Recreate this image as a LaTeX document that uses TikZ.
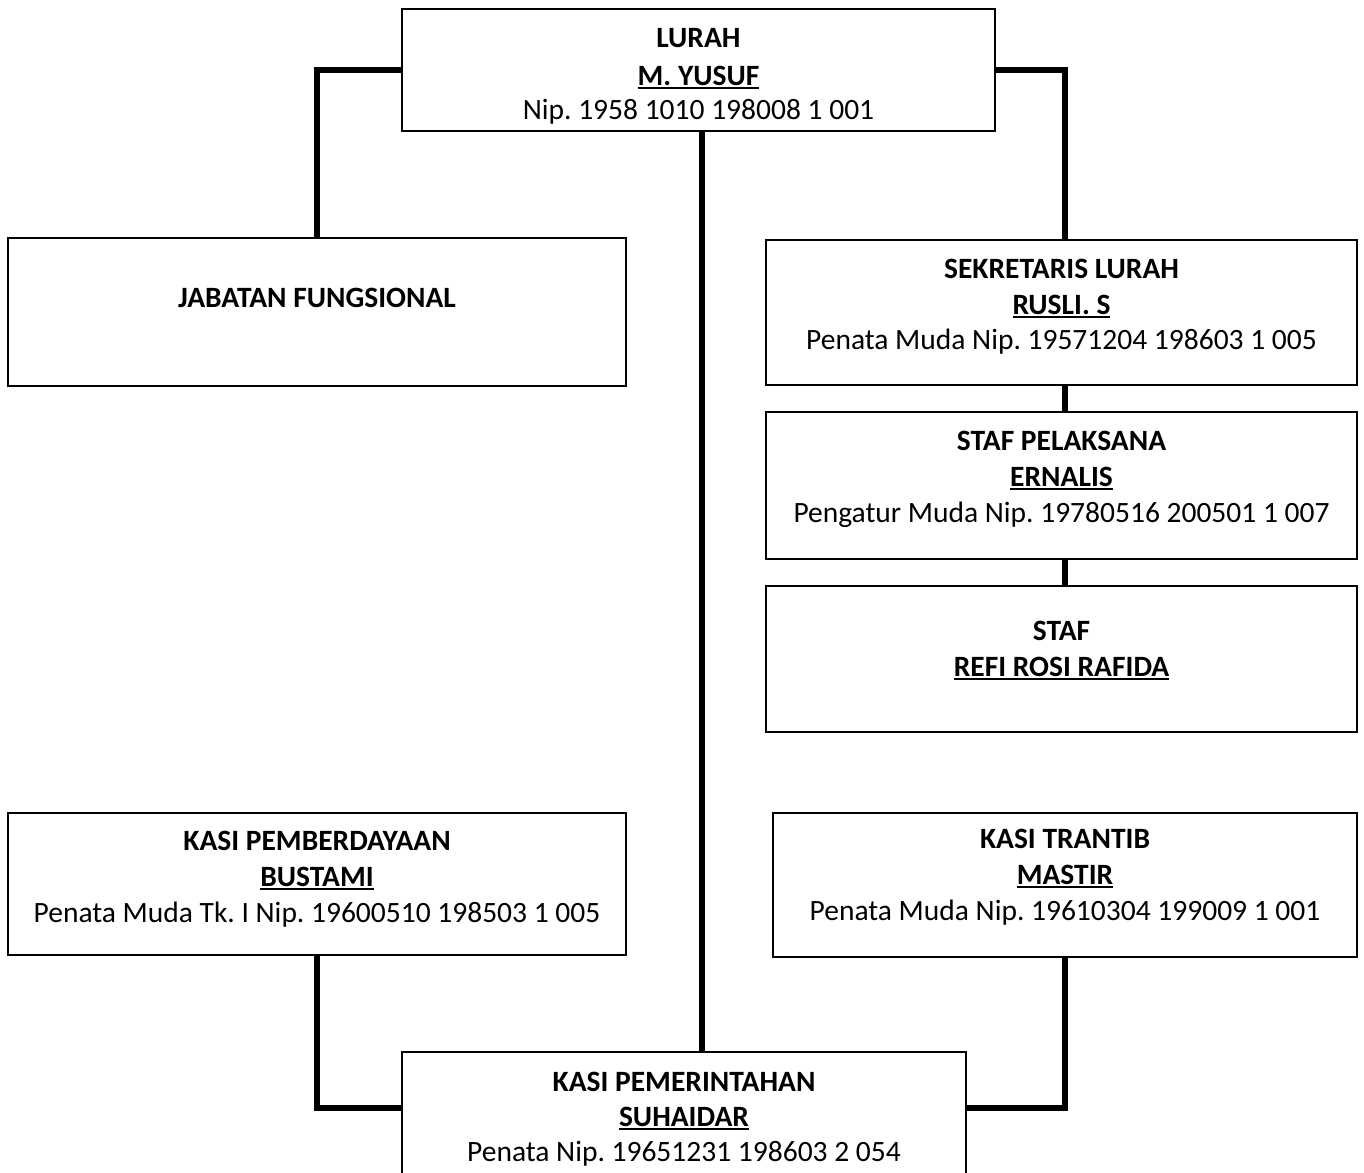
\documentclass[tikz,border=0pt]{standalone}
\usepackage{fontspec}
\setmainfont{Carlito}
\usetikzlibrary{calc}
\frenchspacing
\newcommand\ulx[1]{\setbox0\hbox{#1}\rlap{\rule[-3.8pt]{\wd0}{1.8pt}}\box0}
\tikzset{
 box/.style={draw, line width=1.6pt, anchor=north west, inner sep=0pt, outer sep=0pt},
 conn/.style={line width=5.5pt, line join=miter, line cap=butt},
 txt/.style={anchor=base, inner sep=0pt, font=\fontsize{29.5}{35}\selectfont\frenchspacing},
 ttl/.style={anchor=base, inner sep=0pt, font=\fontsize{29.5}{35}\selectfont\bfseries\frenchspacing},
}
\begin{document}
\begin{tikzpicture}[x=1pt,y=-1pt]
\clip (0,0) rectangle (1364,1172);
\fill[white] (0,0) rectangle (1364,1172);
% boxes
\node[box, minimum width=593pt, minimum height=122pt] (lurah) at (402,9) {};
\node[box, minimum width=618pt, minimum height=148pt] (jab) at (8,238) {};
\node[box, minimum width=591pt, minimum height=145pt] (sek) at (766,240) {};
\node[box, minimum width=591pt, minimum height=147pt] (staf1) at (766,412) {};
\node[box, minimum width=591pt, minimum height=146pt] (staf2) at (766,586) {};
\node[box, minimum width=618pt, minimum height=142pt] (pemb) at (8,813) {};
\node[box, minimum width=584pt, minimum height=144pt] (tran) at (773,813) {};
\node[box, minimum width=564pt, minimum height=160pt] (pem) at (402,1052) {};
% connector helper coordinates
\coordinate (lc) at (702,131);
\coordinate (rc) at (1065,240);
\coordinate (pl) at (402,1108);
\coordinate (pr) at (966,1108);
% connectors
\draw[conn] (lurah.west) -| (jab.north);
\draw[conn] (lurah.east) -| (rc);
\draw[conn] (lc) -- (lc |- pem.north);
\draw[conn] (rc |- sek.south) -- (rc |- staf1.north);
\draw[conn] (rc |- staf1.south) -- (rc |- staf2.north);
\draw[conn] (pemb.south) |- (pl);
\draw[conn] (tran.south) |- (pr);
% texts
\node[ttl] (t1a) at (698.5,48) {LURAH};
\node[ttl] (t1b) at (698.5,85) {\ulx{M. YUSUF}};
\node[txt] (t1c) at (698.5,119) {Nip. 1958 1010 198008 1 001};
\node[ttl] (t2a) at (317,307) {JABATAN FUNGSIONAL};
\node[ttl] (t3a) at (1061.5,278) {SEKRETARIS LURAH};
\node[ttl] (t3b) at (1061.5,314) {\ulx{RUSLI. S}};
\node[txt] (t3c) at (1061.5,349) {Penata Muda Nip. 19571204 198603 1 005};
\node[ttl] (t4a) at (1061.5,450) {STAF PELAKSANA};
\node[ttl] (t4b) at (1061.5,486) {\ulx{ERNALIS}};
\node[txt] (t4c) at (1061.5,522) {Pengatur Muda Nip. 19780516 200501 1 007};
\node[ttl] (t5a) at (1061.5,640) {STAF};
\node[ttl] (t5b) at (1061.5,676) {\ulx{REFI ROSI RAFIDA}};
\node[ttl] (t6a) at (317,850) {KASI PEMBERDAYAAN};
\node[ttl] (t6b) at (317,886) {\ulx{BUSTAMI}};
\node[txt] (t6c) at (317,922) {Penata Muda Tk. I Nip. 19600510 198503 1 005};
\node[ttl] (t7a) at (1065,848) {KASI TRANTIB};
\node[ttl] (t7b) at (1065,884) {\ulx{MASTIR}};
\node[txt] (t7c) at (1065,920) {Penata Muda Nip. 19610304 199009 1 001};
\node[ttl] (t8a) at (684,1091) {KASI PEMERINTAHAN};
\node[ttl] (t8b) at (684,1126) {\ulx{SUHAIDAR}};
\node[txt] (t8c) at (684,1161) {Penata Nip. 19651231 198603 2 054};
\end{tikzpicture}
\end{document}
